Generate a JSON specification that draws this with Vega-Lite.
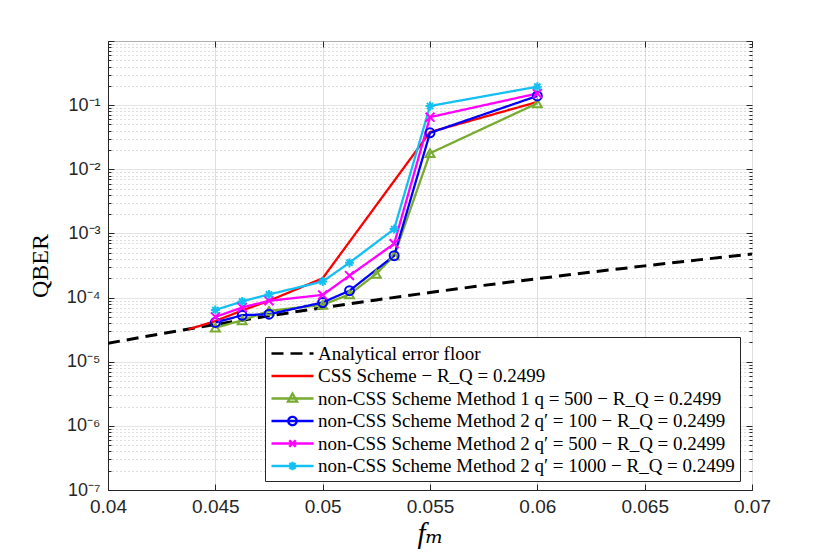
{
  "$schema": "https://vega.github.io/schema/vega-lite/v6.json",
  "width": 644,
  "height": 449,
  "autosize": "none",
  "padding": {"left": 108, "top": 41, "right": 78, "bottom": 64},
  "background": "white",
  "config": {
    "view": {"stroke": "#262626", "strokeWidth": 1},
    "axis": {
      "labelFont": "Liberation Sans",
      "labelColor": "#262626",
      "domainColor": "#262626",
      "tickColor": "#262626",
      "titleColor": "#000000",
      "titleFontWeight": "normal"
    }
  },
  "data": {
    "values": [
      {"s": "floor", "f": 0.04, "q": 1.94e-5},
      {"s": "floor", "f": 0.0425, "q": 2.74e-5},
      {"s": "floor", "f": 0.045, "q": 3.8e-5},
      {"s": "floor", "f": 0.0475, "q": 5.19e-5},
      {"s": "floor", "f": 0.05, "q": 6.95e-5},
      {"s": "floor", "f": 0.0525, "q": 9.19e-5},
      {"s": "floor", "f": 0.055, "q": 1.2e-4},
      {"s": "floor", "f": 0.0575, "q": 1.55e-4},
      {"s": "floor", "f": 0.06, "q": 1.97e-4},
      {"s": "floor", "f": 0.0625, "q": 2.49e-4},
      {"s": "floor", "f": 0.065, "q": 3.12e-4},
      {"s": "floor", "f": 0.0675, "q": 3.87e-4},
      {"s": "floor", "f": 0.07, "q": 4.76e-4},

      {"s": "css", "f": 0.04375, "q": 3.2e-5},
      {"s": "css", "f": 0.045, "q": 4.3e-5},
      {"s": "css", "f": 0.04625, "q": 6.3e-5},
      {"s": "css", "f": 0.0475, "q": 8.9e-5},
      {"s": "css", "f": 0.05, "q": 2.0e-4},
      {"s": "css", "f": 0.055, "q": 0.038},
      {"s": "css", "f": 0.06, "q": 0.112},

      {"s": "m1", "f": 0.045, "q": 3.4e-5},
      {"s": "m1", "f": 0.04625, "q": 4.4e-5},
      {"s": "m1", "f": 0.0475, "q": 6.2e-5},
      {"s": "m1", "f": 0.05, "q": 7.7e-5},
      {"s": "m1", "f": 0.05125, "q": 1.12e-4},
      {"s": "m1", "f": 0.0525, "q": 2.35e-4},
      {"s": "m1", "f": 0.05333, "q": 4.5e-4},
      {"s": "m1", "f": 0.055, "q": 0.0178},
      {"s": "m1", "f": 0.06, "q": 0.107},

      {"s": "m2a", "f": 0.045, "q": 4.1e-5},
      {"s": "m2a", "f": 0.04625, "q": 5.3e-5},
      {"s": "m2a", "f": 0.0475, "q": 5.5e-5},
      {"s": "m2a", "f": 0.05, "q": 8.4e-5},
      {"s": "m2a", "f": 0.05125, "q": 1.28e-4},
      {"s": "m2a", "f": 0.05333, "q": 4.5e-4},
      {"s": "m2a", "f": 0.055, "q": 0.037},
      {"s": "m2a", "f": 0.06, "q": 0.139},

      {"s": "m2b", "f": 0.045, "q": 5.0e-5},
      {"s": "m2b", "f": 0.04625, "q": 7.0e-5},
      {"s": "m2b", "f": 0.0475, "q": 8.9e-5},
      {"s": "m2b", "f": 0.05, "q": 1.1e-4},
      {"s": "m2b", "f": 0.05125, "q": 2.2e-4},
      {"s": "m2b", "f": 0.05333, "q": 6.9e-4},
      {"s": "m2b", "f": 0.055, "q": 0.065},
      {"s": "m2b", "f": 0.06, "q": 0.152},

      {"s": "m2c", "f": 0.045, "q": 6.4e-5},
      {"s": "m2c", "f": 0.04625, "q": 8.7e-5},
      {"s": "m2c", "f": 0.0475, "q": 1.12e-4},
      {"s": "m2c", "f": 0.05, "q": 1.78e-4},
      {"s": "m2c", "f": 0.05125, "q": 3.5e-4},
      {"s": "m2c", "f": 0.05333, "q": 1.17e-3},
      {"s": "m2c", "f": 0.055, "q": 0.097},
      {"s": "m2c", "f": 0.06, "q": 0.194}
    ]
  },
  "layer": [
    {
      "mark": {"type": "line", "clip": true},
      "encoding": {
        "x": {
          "field": "f",
          "type": "quantitative",
          "scale": {"domain": [0.04, 0.07], "nice": false, "zero": false},
          "axis": {
            "values": [0.04, 0.045, 0.05, 0.055, 0.06, 0.065, 0.07],
            "format": ".3~f",
            "labelFlush": false,
            "labelFontSize": 19,
            "labelPadding": 13,
            "tickSize": -6,
            "grid": true,
            "gridColor": "#dedede",
            "title": "fₘ",
            "titleFont": "Liberation Serif, DejaVu Serif",
            "titleFontStyle": "italic",
            "titleFontSize": 29,
            "titlePadding": 3
          }
        },
        "y": {
          "field": "q",
          "type": "quantitative",
          "scale": {"type": "log", "domain": [1e-7, 1], "nice": false},
          "axis": {
            "values": [1e-7, 2e-7, 3e-7, 4e-7, 5e-7, 6e-7, 7e-7, 8e-7, 9e-7,
                       1e-6, 2e-6, 3e-6, 4e-6, 5e-6, 6e-6, 7e-6, 8e-6, 9e-6,
                       1e-5, 2e-5, 3e-5, 4e-5, 5e-5, 6e-5, 7e-5, 8e-5, 9e-5,
                       1e-4, 2e-4, 3e-4, 4e-4, 5e-4, 6e-4, 7e-4, 8e-4, 9e-4,
                       0.001, 0.002, 0.003, 0.004, 0.005, 0.006, 0.007, 0.008, 0.009,
                       0.01, 0.02, 0.03, 0.04, 0.05, 0.06, 0.07, 0.08, 0.09,
                       0.1, 0.2, 0.3, 0.4, 0.5, 0.6, 0.7, 0.8, 0.9, 1],
            "labelExpr": "abs(log(datum.value)/LN10 - round(log(datum.value)/LN10)) < 0.001 && datum.value < 0.5 ? '10' + ['⁰','⁻¹','⁻²','⁻³','⁻⁴','⁻⁵','⁻⁶','⁻⁷'][-round(log(datum.value)/LN10)] : ''",
            "labelOverlap": false,
            "labelFontSize": 18,
            "labelPadding": 14,
            "tickSize": {"condition": {"test": "abs(log(datum.value)/LN10 - round(log(datum.value)/LN10)) < 0.001", "value": -6}, "value": -3},
            "grid": true,
            "gridColor": {"condition": {"test": "abs(log(datum.value)/LN10 - round(log(datum.value)/LN10)) < 0.001", "value": "#dcdcdc"}, "value": "#bdbdbd"},
            "gridDash": {"condition": {"test": "abs(log(datum.value)/LN10 - round(log(datum.value)/LN10)) < 0.001", "value": [1, 0]}, "value": [1, 3]},
            "title": "QBER",
            "titleFont": "Liberation Serif, DejaVu Serif",
            "titleFontSize": 24,
            "titlePadding": 14
          }
        },
        "color": {
          "field": "s",
          "type": "nominal",
          "scale": {
            "domain": ["floor", "css", "m1", "m2a", "m2b", "m2c"],
            "range": ["#000000", "#ff0000", "#77ac30", "#0000ff", "#ff00ff", "#14bff2"]
          },
          "legend": {
            "title": null,
            "orient": "none",
            "legendX": 157,
            "legendY": 296,
            "direction": "vertical",
            "fillColor": "white",
            "strokeColor": "#262626",
            "padding": 5,
            "cornerRadius": 0,
            "labelFont": "Liberation Serif, DejaVu Serif",
            "labelFontSize": 19,
            "labelColor": "#000000",
            "labelLimit": 700,
            "labelOffset": 14,
            "symbolOffset": 11,
            "rowPadding": 0.5,
            "symbolSize": 400,
            "symbolStrokeWidth": 2.3,
            "symbolType": "stroke",
            "labelExpr": "datum.value == 'floor' ? 'Analytical error floor' : datum.value == 'css' ? 'CSS Scheme − R_Q = 0.2499' : datum.value == 'm1' ? 'non-CSS Scheme Method 1 q = 500 − R_Q = 0.2499' : datum.value == 'm2a' ? 'non-CSS Scheme Method 2 q′ = 100 − R_Q = 0.2499' : datum.value == 'm2b' ? 'non-CSS Scheme Method 2 q′ = 500 − R_Q = 0.2499' : 'non-CSS Scheme Method 2 q′ = 1000 − R_Q = 0.2499'",
            "encode": {
              "symbols": {
                "update": {
                  "fill": {"value": "transparent"},
                  "shape": {"signal": "datum.value == 'm1' ? 'M-2.1,0H2.1M0,-0.5L0.46,0.32L-0.46,0.32Z' : datum.value == 'm2a' ? 'M-2.1,0H2.1M0.42,0A0.42,0.42,0,1,1,-0.42,0A0.42,0.42,0,1,1,0.42,0' : datum.value == 'm2b' ? 'M-2.1,0H2.1M-0.33,-0.33L0.33,0.33M-0.33,0.33L0.33,-0.33' : datum.value == 'm2c' ? 'M-2.1,0H2.1M0,-0.42V0.42M-0.3,-0.3L0.3,0.3M-0.3,0.3L0.3,-0.3' : 'M-2.1,0H2.1'"}
                }
              }
            }
          }
        },
        "strokeDash": {
          "field": "s",
          "type": "nominal",
          "scale": {
            "domain": ["floor", "css", "m1", "m2a", "m2b", "m2c"],
            "range": [[12, 7], [1, 0], [1, 0], [1, 0], [1, 0], [1, 0]]
          }
        },
        "strokeWidth": {"condition": {"test": "datum.s == 'floor'", "value": 3}, "value": 2.3}
      }
    },
    {
      "transform": [{"filter": "datum.s != 'floor' && datum.s != 'css'"}],
      "mark": {"type": "point", "filled": false, "size": 80, "strokeWidth": 2, "opacity": 1},
      "encoding": {
        "x": {
          "field": "f",
          "type": "quantitative",
          "axis": {
            "orient": "top",
            "values": [0.04, 0.045, 0.05, 0.055, 0.06, 0.065, 0.07],
            "labels": false,
            "grid": false,
            "domain": false,
            "tickSize": -6,
            "title": null
          }
        },
        "y": {
          "field": "q",
          "type": "quantitative",
          "axis": {
            "orient": "right",
            "values": [1e-7, 2e-7, 3e-7, 4e-7, 5e-7, 6e-7, 7e-7, 8e-7, 9e-7,
                       1e-6, 2e-6, 3e-6, 4e-6, 5e-6, 6e-6, 7e-6, 8e-6, 9e-6,
                       1e-5, 2e-5, 3e-5, 4e-5, 5e-5, 6e-5, 7e-5, 8e-5, 9e-5,
                       1e-4, 2e-4, 3e-4, 4e-4, 5e-4, 6e-4, 7e-4, 8e-4, 9e-4,
                       0.001, 0.002, 0.003, 0.004, 0.005, 0.006, 0.007, 0.008, 0.009,
                       0.01, 0.02, 0.03, 0.04, 0.05, 0.06, 0.07, 0.08, 0.09,
                       0.1, 0.2, 0.3, 0.4, 0.5, 0.6, 0.7, 0.8, 0.9, 1],
            "labels": false,
            "grid": false,
            "domain": false,
            "tickSize": {"condition": {"test": "abs(log(datum.value)/LN10 - round(log(datum.value)/LN10)) < 0.001", "value": -6}, "value": -3},
            "title": null
          }
        },
        "color": {"field": "s", "type": "nominal"},
        "shape": {
          "field": "s",
          "type": "nominal",
          "scale": {
            "domain": ["m1", "m2a", "m2b", "m2c"],
            "range": ["triangle-up", "circle", "M-1,-1L1,1M-1,1L1,-1", "M-1,0H1M0,-1V1M-0.7,-0.7L0.7,0.7M-0.7,0.7L0.7,-0.7"]
          },
          "legend": null
        }
      }
    }
  ],
  "resolve": {"axis": {"x": "independent", "y": "independent"}}
}
